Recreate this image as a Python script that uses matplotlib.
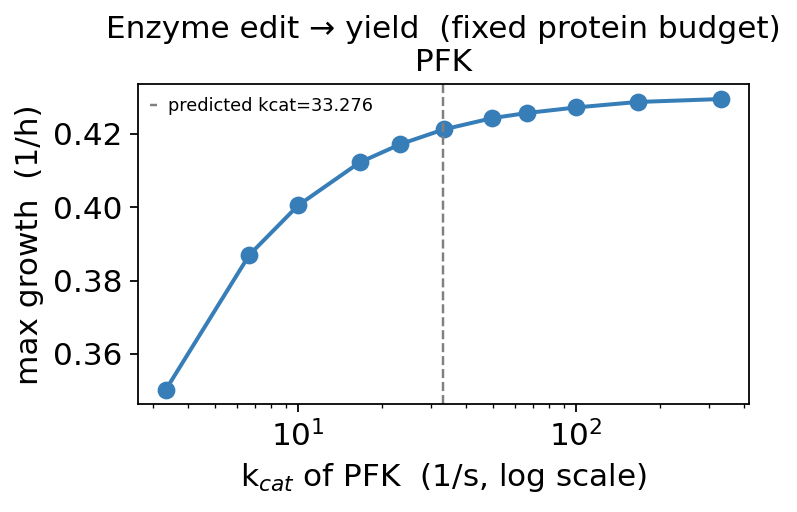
import numpy as np
import matplotlib
matplotlib.use("Agg")
import matplotlib.pyplot as plt

# kcat sweep around the predicted value and the resulting max growth
predicted_kcat = 33.276
kcat_values = [3.33, 6.66, 9.98, 16.6, 23.3, 33.3, 49.9, 66.6, 99.8, 166.4, 332.8]
max_growth = [0.3502, 0.3870, 0.4005, 0.4122, 0.4172, 0.4212, 0.4243, 0.4257, 0.4272, 0.4287, 0.4295]
enzyme = "PFK"

fig, ax = plt.subplots(figsize=(797 / 160, 512 / 160), dpi=160)
fig.subplots_adjust(left=0.173, right=0.94, top=0.835, bottom=0.21)

ax.plot(kcat_values, max_growth, marker="o", color="#377eb8", lw=1.8, markersize=7)
ax.axvline(predicted_kcat, color="gray", ls="--", lw=1.1,
           label=f"predicted kcat={predicted_kcat:.3f}")
ax.set_xscale("log")

ax.set_title("Enzyme edit \u2192 yield  (fixed protein budget)\n" + enzyme, fontsize=14)
ax.set_xlabel(r"k$_{cat}$ of " + enzyme + "  (1/s, log scale)", fontsize=14)
ax.set_ylabel("max growth  (1/h)", fontsize=14)
ax.tick_params(labelsize=14)
ax.legend(loc="upper left", fontsize=8, frameon=False, handlelength=0.4,
          handletextpad=0.6, borderaxespad=0.3)

fig.savefig("out.png", dpi=160)
